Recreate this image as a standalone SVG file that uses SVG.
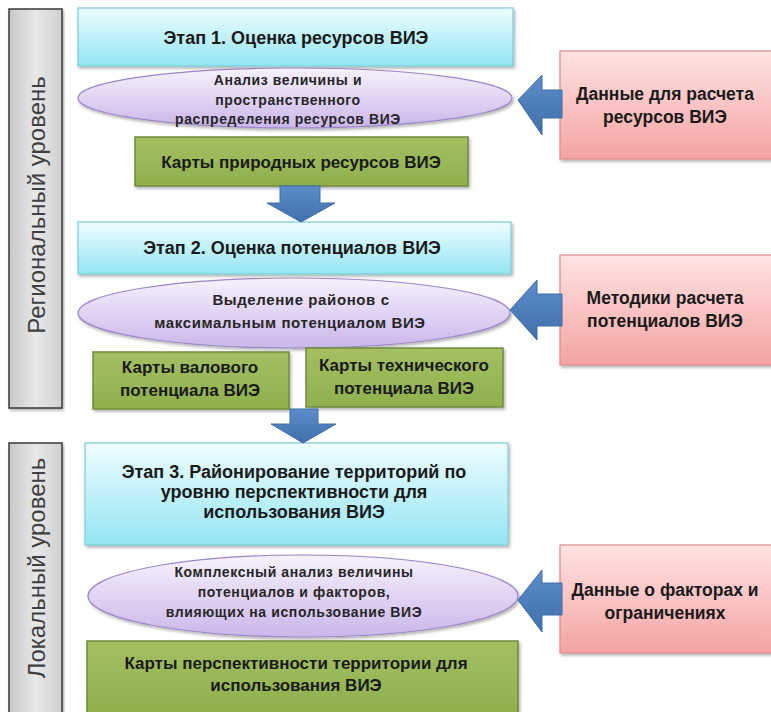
<svg xmlns="http://www.w3.org/2000/svg" width="771" height="712" viewBox="0 0 771 712">
<style>
text{font-family:"Liberation Sans",Arial,sans-serif;fill:#1a1a1a;text-anchor:middle}
.h{font-size:18px;font-weight:bold}
.e{font-size:14px;font-weight:bold;letter-spacing:0.6px;fill:#262626}
.e2{font-size:15px}
.g{font-size:17px;font-weight:bold}
.p{font-size:17.5px;font-weight:bold}
.v{font-size:24px;fill:#404040}
.cy{fill:url(#gc);stroke:#7ccbd9;stroke-width:1.2;filter:url(#sh)}
.el{fill:url(#ge);stroke:#9b88c4;stroke-width:1.2;filter:url(#sh)}
.gr{fill:url(#gg);stroke:#6f8a3c;stroke-width:1.5;filter:url(#sh)}
.pk{fill:url(#gp);stroke:#d98c8c;stroke-width:1.2;filter:url(#sh)}
.gy{fill:url(#gy);stroke:#3a3a3a;stroke-width:1.5;filter:url(#sh)}
.ar{fill:url(#ga);stroke:#3e6da3;stroke-width:1}
</style>
<defs>
<linearGradient id="gc" x1="0" y1="0" x2="0" y2="1"><stop offset="0" stop-color="#effdff"/><stop offset="1" stop-color="#93e5f3"/></linearGradient>
<linearGradient id="ge" x1="0" y1="0" x2="0" y2="1"><stop offset="0" stop-color="#f7f2fd"/><stop offset="1" stop-color="#cbb6ea"/></linearGradient>
<linearGradient id="gg" x1="0" y1="0" x2="0" y2="1"><stop offset="0" stop-color="#a3c063"/><stop offset="1" stop-color="#8fb04d"/></linearGradient>
<linearGradient id="gp" x1="0" y1="0" x2="0" y2="1"><stop offset="0" stop-color="#ffe3e3"/><stop offset="1" stop-color="#f5a3a3"/></linearGradient>
<linearGradient id="gy" x1="0" y1="0" x2="1" y2="0"><stop offset="0" stop-color="#c8c8c8"/><stop offset="0.5" stop-color="#e8e8e8"/><stop offset="1" stop-color="#d0d0d0"/></linearGradient>
<linearGradient id="ga" x1="0" y1="0" x2="0" y2="1"><stop offset="0" stop-color="#5b8dca"/><stop offset="1" stop-color="#416fab"/></linearGradient>
<filter id="sh" x="-5%" y="-5%" width="110%" height="115%"><feDropShadow dx="1.5" dy="2" stdDeviation="1.5" flood-color="#000" flood-opacity="0.3"/></filter>
</defs>

<g id="level-regional">
<rect class="gy" x="9" y="9" width="53" height="399"/>
<text class="v" transform="translate(45,205) rotate(-90)">Региональный уровень</text>
</g>
<g id="level-local">
<rect class="gy" x="9" y="443" width="53" height="275"/>
<text class="v" transform="translate(45,568) rotate(-90)">Локальный уровень</text>
</g>

<g id="stage1">
<rect class="cy" x="78" y="8" width="435" height="58"/>
<text class="h" x="296" y="44">Этап 1.  Оценка ресурсов ВИЭ</text>
</g>
<g id="analysis1">
<ellipse class="el" cx="295" cy="98" rx="217" ry="30"/>
<text class="e" x="288" y="85">Анализ величины и</text>
<text class="e" x="288" y="105">пространственного</text>
<text class="e" x="288" y="124">распределения  ресурсов  ВИЭ</text>
</g>
<g id="maps1">
<rect class="gr" x="135" y="137" width="333" height="49"/>
<text class="g" x="301" y="168">Карты природных ресурсов ВИЭ</text>
</g>
<g id="data1">
<rect class="pk" x="560" y="51" width="214" height="108"/>
<text class="p" x="665" y="100">Данные для расчета</text>
<text class="p" x="665" y="123">ресурсов ВИЭ</text>
</g>

<g id="stage2">
<rect class="cy" x="78" y="222" width="433" height="52"/>
<text class="h" x="292" y="254">Этап 2. Оценка потенциалов ВИЭ</text>
</g>
<g id="analysis2">
<ellipse class="el" cx="294" cy="313" rx="216" ry="35"/>
<text class="e e2" x="301" y="305">Выделение районов  с</text>
<text class="e e2" x="290" y="328">максимальным потенциалом  ВИЭ</text>
</g>
<g id="maps2a">
<rect class="gr" x="93" y="352" width="196" height="57"/>
<text class="g" x="190" y="373">Карты валового</text>
<text class="g" x="190" y="396">потенциала ВИЭ</text>
</g>
<g id="maps2b">
<rect class="gr" x="306" y="348" width="197" height="59"/>
<text class="g" x="404" y="371">Карты  технического</text>
<text class="g" x="404" y="394">потенциала ВИЭ</text>
</g>
<g id="data2">
<rect class="pk" x="560" y="255" width="214" height="110"/>
<text class="p" x="665" y="304">Методики расчета</text>
<text class="p" x="665" y="327">потенциалов ВИЭ</text>
</g>

<g id="stage3">
<rect class="cy" x="85" y="443" width="423" height="102"/>
<text class="h" x="294" y="478">Этап 3. Районирование территорий по</text>
<text class="h" x="294" y="498">уровню перспективности для</text>
<text class="h" x="294" y="518">использования ВИЭ</text>
</g>
<g id="analysis3">
<ellipse class="el" cx="303" cy="596" rx="215" ry="41"/>
<text class="e" x="294" y="577">Комплексный анализ величины</text>
<text class="e" x="294" y="597">потенциалов и факторов,</text>
<text class="e" x="294" y="617">влияющих на использование  ВИЭ</text>
</g>
<g id="maps3">
<rect class="gr" x="87" y="641" width="431" height="72"/>
<text class="g" x="296" y="669">Карты перспективности территории для</text>
<text class="g" x="296" y="691">использования ВИЭ</text>
</g>
<g id="data3">
<rect class="pk" x="560" y="545" width="214" height="108"/>
<text class="p" x="665" y="596">Данные о факторах и</text>
<text class="p" x="665" y="619">ограничениях</text>
</g>

<g id="connectors">
<path class="ar" d="M280,186 L320,186 L320,203 L335,203 L301,222 L267,203 L280,203 Z"/>
<path class="ar" d="M290,409 L318,409 L318,424 L336,424 L303,443 L271,424 L290,424 Z"/>
<path class="ar" d="M562,90 L542,90 L542,75 L518,100 L542,135 L542,118 L562,118 Z"/>
<path class="ar" d="M562,294 L537,294 L537,280 L510,310 L537,340 L537,326 L562,326 Z"/>
<path class="ar" d="M562,583 L542,583 L542,570 L518,600 L542,632 L542,615 L562,615 Z"/>
</g>
</svg>
